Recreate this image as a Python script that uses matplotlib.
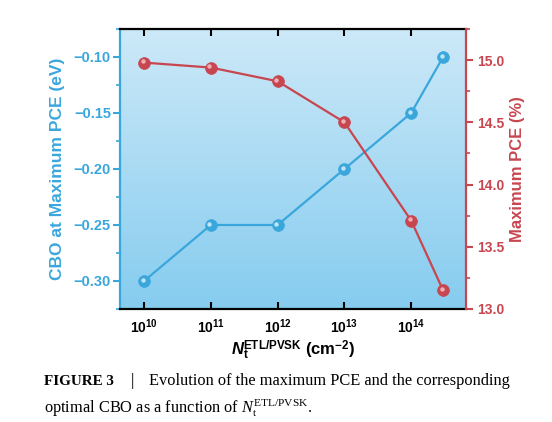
import numpy as np
import matplotlib
matplotlib.use('Agg')
import matplotlib.pyplot as plt
from matplotlib.ticker import FixedLocator, FuncFormatter, NullLocator
from matplotlib.transforms import offset_copy

plt.rcParams['font.family'] = 'Liberation Sans'
plt.rcParams['font.weight'] = 'bold'
# custom math fonts: serif for the caption, bold sans for the axes
plt.rcParams['mathtext.fontset'] = 'custom'
plt.rcParams['mathtext.rm'] = 'Liberation Serif:regular'
plt.rcParams['mathtext.it'] = 'Liberation Serif:italic:regular'
plt.rcParams['mathtext.bf'] = 'Liberation Sans:bold'
plt.rcParams['mathtext.sf'] = 'Liberation Sans:italic:bold'

# data
nt = [1e10, 1e11, 1e12, 1e13, 1e14, 3e14]
cbo = [-0.30, -0.25, -0.25, -0.20, -0.15, -0.10]
pce = [14.98, 14.94, 14.83, 14.50, 13.71, 13.15]
xticks = [1e10, 1e11, 1e12, 1e13, 1e14]
cbo_ticks = [-0.30, -0.25, -0.20, -0.15, -0.10]
pce_ticks = [13.0, 13.5, 14.0, 14.5, 15.0]

blue = '#3aa7dc'
red = '#c8464f'

fig = plt.figure(figsize=(5.52, 4.22), dpi=100)
ax = fig.add_axes([0.2174, 0.2678, 0.6268, 0.6635])
ax2 = ax.twinx()

# gradient background
grad = np.linspace(0, 1, 256).reshape(-1, 1)
top_c = np.array([204, 233, 248]) / 255
bot_c = np.array([134, 204, 239]) / 255
img = top_c * (1 - grad[..., None]) + bot_c * grad[..., None]
ax.imshow(img, extent=[0, 1, 0, 1], transform=ax.transAxes, aspect='auto', zorder=0)

def sphere(a, x, y, c, hl):
    a.plot(x, y, '-', color=c, lw=1.6, zorder=3)
    a.plot(x, y, 'o', ms=8.5, mfc=c, mec=c, mew=0.5, zorder=4)
    tr = offset_copy(a.transData, fig=fig, x=-1.0, y=1.0, units='points')
    a.plot(x, y, 'o', ms=3.2, mfc=hl, mec='none', alpha=0.85, transform=tr, zorder=5)

sphere(ax, nt, cbo, blue, '#d8f0fb')
sphere(ax2, nt, pce, red, '#f3c4c7')

ax.set_xscale('log')
ax.set_xlim(10 ** 9.64, 10 ** 14.82)
ax.set_ylim(-0.325, -0.075)
ax2.set_ylim(13.0, 15.25)

ax.xaxis.set_major_locator(FixedLocator(xticks))
ax.xaxis.set_minor_locator(NullLocator())
ax.xaxis.set_major_formatter(FuncFormatter(lambda v, p: r'$\mathbf{10^{%d}}$' % round(np.log10(v))))
ax.tick_params(axis='x', which='major', direction='in', top=True, length=5, width=1.5,
               labelsize=10, pad=6, color='black')

ax.yaxis.set_major_locator(FixedLocator(cbo_ticks))
ax.yaxis.set_minor_locator(FixedLocator([-0.325, -0.275, -0.225, -0.175, -0.125, -0.075]))
ax.yaxis.set_major_formatter(FuncFormatter(lambda v, p: ('%.2f' % v).replace('-', '\u2212')))
ax.tick_params(axis='y', which='major', direction='out', length=5, width=1.5, pad=1.5,
               labelsize=10.5, color=blue, labelcolor=blue)
ax.tick_params(axis='y', which='minor', direction='out', length=3, width=1.2, color=blue)

ax2.yaxis.set_major_locator(FixedLocator(pce_ticks))
ax2.yaxis.set_minor_locator(FixedLocator([13.25, 13.75, 14.25, 14.75, 15.25]))
ax2.yaxis.set_major_formatter(FuncFormatter(lambda v, p: '%.1f' % v))
ax2.tick_params(axis='y', which='major', direction='out', length=5, width=1.5, pad=3,
                labelsize=10, color=red, labelcolor=red)
ax2.tick_params(axis='y', which='minor', direction='out', length=3, width=1.2, color=red)

for s in ['top', 'bottom']:
    ax.spines[s].set_linewidth(1.6)
    ax.spines[s].set_color('black')
ax.spines['left'].set_color(blue)
ax.spines['left'].set_linewidth(1.6)
ax.spines['right'].set_visible(False)
for s in ['top', 'bottom', 'left']:
    ax2.spines[s].set_visible(False)
ax2.spines['right'].set_color(red)
ax2.spines['right'].set_linewidth(1.6)

ax.set_ylabel('CBO at Maximum PCE (eV)', color=blue, fontsize=12.5, fontweight='bold', labelpad=6)
ax2.set_ylabel('Maximum PCE (%)', color=red, fontsize=12, fontweight='bold', labelpad=4)
ax.set_xlabel(r'$\mathsf{N}_{\mathbf{t}}^{\mathbf{ETL/PVSK}}$ (cm$^{\mathbf{-2}}$)', fontsize=12,
              fontweight='bold', labelpad=2)

# caption
cap = dict(family='Liberation Serif', fontsize=11.8, color='black', va='center')
fig.text(0.080, 0.097, 'FIGURE 3', fontweight='bold', fontsize=10.9,
         family='Liberation Serif', color='black', va='center')
fig.text(0.236, 0.097, '|', fontweight='normal', **cap)
fig.text(0.270, 0.097, 'Evolution of the maximum PCE and the corresponding',
         fontweight='normal', **cap)
fig.text(0.080, 0.033, r'optimal CBO as a function of $N_{\mathrm{t}}^{\mathrm{ETL/PVSK}}$.',
         fontweight='normal', **cap)

fig.savefig('out.png', dpi=100)
